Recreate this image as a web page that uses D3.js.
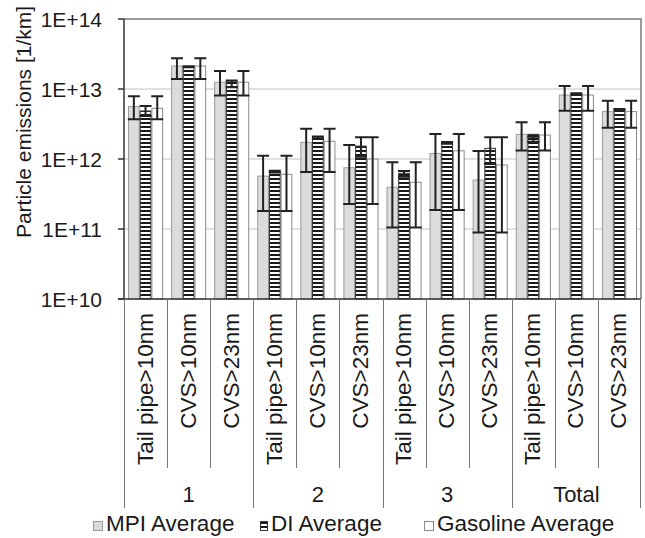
<!DOCTYPE html>
<html>
<head>
<meta charset="utf-8">
<script src="https://cdn.jsdelivr.net/npm/d3@7"></script>
<style>
  body { margin: 0; background: #fff; }
  text { font-family: "Liberation Sans", Arial, sans-serif; fill: #1a1a1a; }
</style>
</head>
<body>
<svg id="chart" width="645" height="538"></svg>
<script>
// categories (inner) and groups (outer)
const categories = ["Tail pipe>10nm", "CVS>10nm", "CVS>23nm"];
const groups = ["1", "2", "3", "Total"];
const series = ["MPI Average", "DI Average", "Gasoline Average"];
const yTicks = [1e10, 1e11, 1e12, 1e13, 1e14];

// values per category, in order 1/TP,1/CVS10,1/CVS23,2/...,Total/...
const mpiAvg = [5.6e12, 2.13e13, 1.25e13, 5.7e11, 1.73e12, 7.5e11, 3.95e11, 1.2e12, 5.0e11, 2.25e12, 8.2e12, 4.75e12];
const mpiLow = [3.7e12, 1.39e13, 8.1e12, 1.81e11, 6.5e11, 2.28e11, 1.05e11, 1.87e11, 8.9e10, 1.32e12, 4.9e12, 2.8e12];
const mpiHigh = [7.9e12, 2.75e13, 1.81e13, 1.11e12, 2.71e12, 1.58e12, 9.0e11, 2.28e12, 1.3e12, 3.34e12, 1.1e13, 6.8e12];

const diAvg = [4.85e12, 2.08e13, 1.3e13, 6.6e11, 2.06e12, 1.53e12, 6.25e11, 1.71e12, 1.42e12, 2.25e12, 8.5e12, 5.1e12];
const diLow = [4.1e12, 2.04e13, 1.06e13, 6.4e11, 1.95e12, 1.08e12, 5.6e11, 1.65e12, 8.5e11, 1.77e12, 8.3e12, 5.0e12];
const diHigh = [5.7e12, 2.12e13, 1.32e13, 6.8e11, 2.1e12, 2.04e12, 6.75e11, 1.75e12, 2.04e12, 2.08e12, 8.7e12, 5.2e12];

const gasAvg = [5.3e12, 2.13e13, 1.25e13, 6.05e11, 1.79e12, 1.0e12, 4.65e11, 1.31e12, 8.2e11, 2.2e12, 8.2e12, 4.75e12];
const gasLow = [3.7e12, 1.39e13, 8.1e12, 1.81e11, 6.5e11, 2.28e11, 1.05e11, 1.87e11, 8.9e10, 1.32e12, 4.9e12, 2.8e12];
const gasHigh = [7.9e12, 2.75e13, 1.81e13, 1.11e12, 2.71e12, 2.04e12, 9.0e11, 2.28e12, 2.04e12, 3.34e12, 1.1e13, 6.8e12];

const svg = d3.select("#chart");
const plotL = 124, plotR = 641, plotT = 19, plotB = 299;

const keys = [];
groups.forEach(g => categories.forEach(c => keys.push(g + "|" + c)));

const y = d3.scaleLog().domain([1e10, 1e14]).range([plotB, plotT]);
const x0 = d3.scaleBand().domain(keys).range([plotL, plotR]);
const x1 = d3.scaleBand().domain(series).range([4, x0.bandwidth() - 4]);

// stripe pattern for DI bars
const defs = svg.append("defs");
const pat = defs.append("pattern")
  .attr("id", "stripes")
  .attr("patternUnits", "userSpaceOnUse")
  .attr("width", 8).attr("height", 4);
pat.append("rect").attr("width", 8).attr("height", 4).attr("fill", "#fff");
pat.append("rect").attr("y", 2).attr("width", 8).attr("height", 2).attr("fill", "#1a1a1a");

// gridlines
svg.append("g")
  .selectAll("line")
  .data(yTicks.slice(1, 4))
  .join("line")
  .attr("x1", plotL).attr("x2", plotR)
  .attr("y1", d => y(d)).attr("y2", d => y(d))
  .attr("stroke", "#d6d6d6").attr("stroke-width", 1.5);

// plot border (top / right)
svg.append("path")
  .attr("d", `M${plotL},${plotT}H${plotR}V${plotB}`)
  .attr("fill", "none").attr("stroke", "#9a9a9a").attr("stroke-width", 2);

const seriesData = [
  { name: series[0], avg: mpiAvg, lo: mpiLow, hi: mpiHigh, fill: "#dcdcdc", stroke: "#9a9a9a" },
  { name: series[1], avg: diAvg, lo: diLow, hi: diHigh, fill: "url(#stripes)", stroke: "#333" },
  { name: series[2], avg: gasAvg, lo: gasLow, hi: gasHigh, fill: "#fff", stroke: "#8a8a8a" }
];

// bars
seriesData.forEach(s => {
  svg.append("g")
    .selectAll("rect")
    .data(keys)
    .join("rect")
    .attr("x", k => x0(k) + x1(s.name) + 0.5)
    .attr("width", x1.bandwidth() - 1)
    .attr("y", (k, i) => y(s.avg[i]))
    .attr("height", (k, i) => plotB - y(s.avg[i]))
    .attr("fill", s.fill)
    .attr("stroke", s.stroke)
    .attr("stroke-width", 1);
});

// error bars
seriesData.forEach(s => {
  const g = svg.append("g").attr("stroke", "#222").attr("stroke-width", 2).attr("fill", "none");
  keys.forEach((k, i) => {
    const cx = x0(k) + x1(s.name) + x1.bandwidth() / 2;
    const yh = y(s.hi[i]), yl = y(s.lo[i]);
    g.append("path")
      .attr("d", `M${cx},${yh}V${yl}M${cx - 6},${yh}H${cx + 6}M${cx - 6},${yl}H${cx + 6}`);
  });
});

// y axis
const yAxis = svg.append("g").attr("transform", `translate(${plotL},0)`);
yAxis.append("line").attr("x1", 0).attr("x2", 0).attr("y1", plotT).attr("y2", plotB)
  .attr("stroke", "#333").attr("stroke-width", 1.5);
yAxis.selectAll("line.tick")
  .data(yTicks)
  .join("line")
  .attr("class", "tick")
  .attr("x1", -6).attr("x2", 0)
  .attr("y1", d => y(d)).attr("y2", d => y(d))
  .attr("stroke", "#333").attr("stroke-width", 1.5);
yAxis.selectAll("text")
  .data(yTicks)
  .join("text")
  .attr("x", -22)
  .attr("y", d => y(d))
  .attr("dy", "0.36em")
  .attr("text-anchor", "end")
  .attr("font-size", 21)
  .text(d => "1E+" + Math.round(Math.log10(d)));

svg.append("text")
  .attr("transform", "translate(31,122) rotate(-90)")
  .attr("text-anchor", "middle")
  .attr("font-size", 21)
  .text("Particle emissions [1/km]");

// x axis line
svg.append("line")
  .attr("x1", plotL - 6).attr("x2", plotR)
  .attr("y1", plotB).attr("y2", plotB)
  .attr("stroke", "#333").attr("stroke-width", 1.5);

// category separators
const sepG = svg.append("g").attr("stroke", "#777").attr("stroke-width", 1);
keys.forEach((k, i) => {
  const xs = Math.round(x0(k)) + 0.5;
  sepG.append("line")
    .attr("x1", xs).attr("x2", xs)
    .attr("y1", plotB).attr("y2", i % 3 === 0 ? 508 : 468);
});
sepG.append("line")
  .attr("x1", plotR - 0.5).attr("x2", plotR - 0.5)
  .attr("y1", plotB).attr("y2", 508);

// category labels
svg.append("g")
  .selectAll("text")
  .data(keys)
  .join("text")
  .attr("transform", k => `translate(${x0(k) + x0.bandwidth() / 2 + 7},313) rotate(-90)`)
  .attr("text-anchor", "end")
  .attr("font-size", 22.5)
  .text(k => k.split("|")[1]);

// group labels
svg.append("g")
  .selectAll("text")
  .data(groups)
  .join("text")
  .attr("x", g => x0(g + "|" + categories[0]) + x0.bandwidth() * 1.5)
  .attr("y", 502)
  .attr("text-anchor", "middle")
  .attr("font-size", 22)
  .text(g => g);

// legend
const legendX = [93, 260, 424];
const legend = svg.append("g");
seriesData.forEach((s, i) => {
  const w = i === 1 ? 7 : 9;
  legend.append("rect")
    .attr("x", legendX[i] + 0.5).attr("y", 521.5)
    .attr("width", w).attr("height", 9)
    .attr("fill", s.fill).attr("stroke", s.stroke).attr("stroke-width", 1);
  legend.append("text")
    .attr("x", legendX[i] + w + 4)
    .attr("y", 531)
    .attr("font-size", 22.5)
    .text(s.name);
});
</script>
</body>
</html>
